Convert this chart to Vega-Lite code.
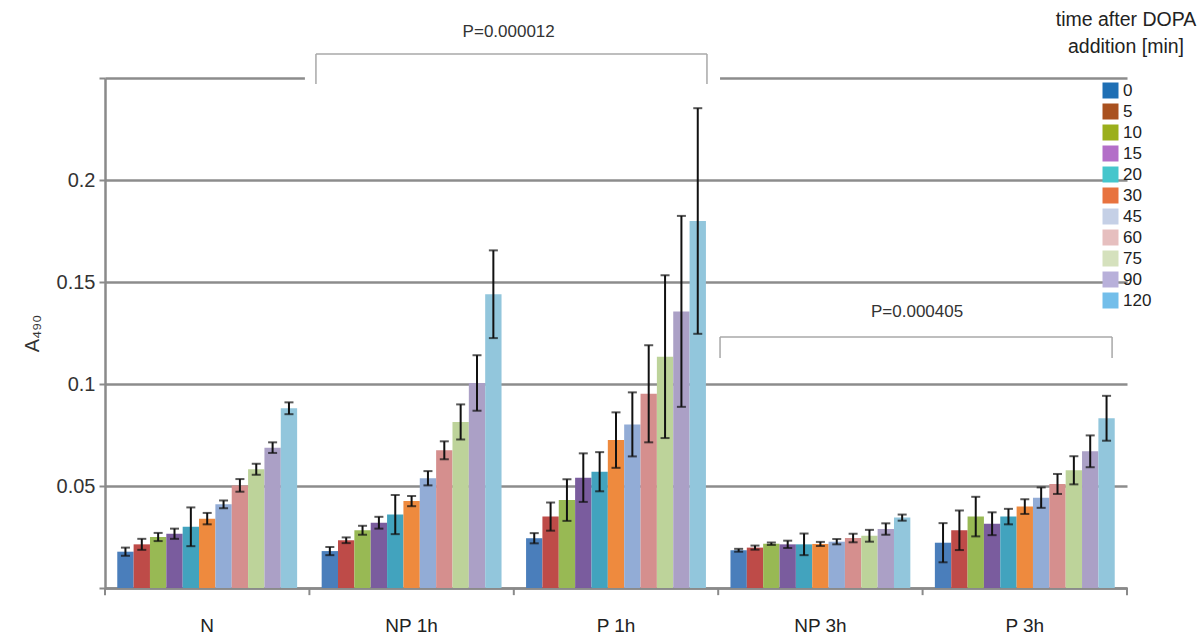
{
  "$schema": "https://vega.github.io/schema/vega-lite/v6.json",
  "width": 1022,
  "height": 510,
  "autosize": "none",
  "padding": {"left": 105, "top": 78, "right": 76, "bottom": 51},
  "background": "white",
  "config": {
    "view": {"stroke": null},
    "font": "Liberation Sans",
    "axis": {"labelFont": "Liberation Sans", "titleFont": "Liberation Sans"}
  },
  "datasets": {
    "bars": [
      {"group": "N", "time": "0", "v": 0.0178, "lo": 0.0158, "hi": 0.0198},
      {"group": "N", "time": "5", "v": 0.0214, "lo": 0.0187, "hi": 0.0241},
      {"group": "N", "time": "10", "v": 0.0250, "lo": 0.0230, "hi": 0.0270},
      {"group": "N", "time": "15", "v": 0.0266, "lo": 0.0241, "hi": 0.0291},
      {"group": "N", "time": "20", "v": 0.0300, "lo": 0.0205, "hi": 0.0395},
      {"group": "N", "time": "30", "v": 0.0340, "lo": 0.0312, "hi": 0.0368},
      {"group": "N", "time": "45", "v": 0.0410, "lo": 0.0391, "hi": 0.0429},
      {"group": "N", "time": "60", "v": 0.0503, "lo": 0.0472, "hi": 0.0534},
      {"group": "N", "time": "75", "v": 0.0582, "lo": 0.0555, "hi": 0.0609},
      {"group": "N", "time": "90", "v": 0.0688, "lo": 0.0662, "hi": 0.0714},
      {"group": "N", "time": "120", "v": 0.0881, "lo": 0.0852, "hi": 0.0910},
      {"group": "NP 1h", "time": "0", "v": 0.0181, "lo": 0.0161, "hi": 0.0201},
      {"group": "NP 1h", "time": "5", "v": 0.0234, "lo": 0.0220, "hi": 0.0248},
      {"group": "NP 1h", "time": "10", "v": 0.0283, "lo": 0.0261, "hi": 0.0305},
      {"group": "NP 1h", "time": "15", "v": 0.0320, "lo": 0.0291, "hi": 0.0349},
      {"group": "NP 1h", "time": "20", "v": 0.0360, "lo": 0.0264, "hi": 0.0456},
      {"group": "NP 1h", "time": "30", "v": 0.0426, "lo": 0.0401, "hi": 0.0451},
      {"group": "NP 1h", "time": "45", "v": 0.0538, "lo": 0.0503, "hi": 0.0573},
      {"group": "NP 1h", "time": "60", "v": 0.0675, "lo": 0.0631, "hi": 0.0719},
      {"group": "NP 1h", "time": "75", "v": 0.0814, "lo": 0.0728, "hi": 0.0900},
      {"group": "NP 1h", "time": "90", "v": 0.1005, "lo": 0.0869, "hi": 0.1141},
      {"group": "NP 1h", "time": "120", "v": 0.1440, "lo": 0.1225, "hi": 0.1655},
      {"group": "P 1h", "time": "0", "v": 0.0244, "lo": 0.0219, "hi": 0.0269},
      {"group": "P 1h", "time": "5", "v": 0.0350, "lo": 0.0281, "hi": 0.0419},
      {"group": "P 1h", "time": "10", "v": 0.0431, "lo": 0.0329, "hi": 0.0533},
      {"group": "P 1h", "time": "15", "v": 0.0541, "lo": 0.0422, "hi": 0.0660},
      {"group": "P 1h", "time": "20", "v": 0.0570, "lo": 0.0474, "hi": 0.0666},
      {"group": "P 1h", "time": "30", "v": 0.0725, "lo": 0.0589, "hi": 0.0861},
      {"group": "P 1h", "time": "45", "v": 0.0802, "lo": 0.0645, "hi": 0.0959},
      {"group": "P 1h", "time": "60", "v": 0.0952, "lo": 0.0714, "hi": 0.1190},
      {"group": "P 1h", "time": "75", "v": 0.1134, "lo": 0.0735, "hi": 0.1533},
      {"group": "P 1h", "time": "90", "v": 0.1356, "lo": 0.0888, "hi": 0.1824},
      {"group": "P 1h", "time": "120", "v": 0.1799, "lo": 0.1246, "hi": 0.2352},
      {"group": "NP 3h", "time": "0", "v": 0.0185, "lo": 0.0178, "hi": 0.0192},
      {"group": "NP 3h", "time": "5", "v": 0.0198, "lo": 0.0188, "hi": 0.0208},
      {"group": "NP 3h", "time": "10", "v": 0.0217, "lo": 0.0211, "hi": 0.0223},
      {"group": "NP 3h", "time": "15", "v": 0.0214, "lo": 0.0196, "hi": 0.0232},
      {"group": "NP 3h", "time": "20", "v": 0.0214, "lo": 0.0161, "hi": 0.0267},
      {"group": "NP 3h", "time": "30", "v": 0.0216, "lo": 0.0206, "hi": 0.0226},
      {"group": "NP 3h", "time": "45", "v": 0.0227, "lo": 0.0214, "hi": 0.0240},
      {"group": "NP 3h", "time": "60", "v": 0.0245, "lo": 0.0224, "hi": 0.0266},
      {"group": "NP 3h", "time": "75", "v": 0.0256, "lo": 0.0227, "hi": 0.0285},
      {"group": "NP 3h", "time": "90", "v": 0.0289, "lo": 0.0261, "hi": 0.0317},
      {"group": "NP 3h", "time": "120", "v": 0.0345, "lo": 0.0330, "hi": 0.0360},
      {"group": "P 3h", "time": "0", "v": 0.0222, "lo": 0.0126, "hi": 0.0318},
      {"group": "P 3h", "time": "5", "v": 0.0283, "lo": 0.0186, "hi": 0.0380},
      {"group": "P 3h", "time": "10", "v": 0.0350, "lo": 0.0253, "hi": 0.0447},
      {"group": "P 3h", "time": "15", "v": 0.0315, "lo": 0.0259, "hi": 0.0371},
      {"group": "P 3h", "time": "20", "v": 0.0350, "lo": 0.0312, "hi": 0.0388},
      {"group": "P 3h", "time": "30", "v": 0.0399, "lo": 0.0363, "hi": 0.0435},
      {"group": "P 3h", "time": "45", "v": 0.0443, "lo": 0.0393, "hi": 0.0493},
      {"group": "P 3h", "time": "60", "v": 0.0510, "lo": 0.0461, "hi": 0.0559},
      {"group": "P 3h", "time": "75", "v": 0.0577, "lo": 0.0508, "hi": 0.0646},
      {"group": "P 3h", "time": "90", "v": 0.0670, "lo": 0.0592, "hi": 0.0748},
      {"group": "P 3h", "time": "120", "v": 0.0832, "lo": 0.0722, "hi": 0.0942}
    ],
    "covers": [
      {"x": 0.978, "x2": 3.009, "y": 0.2465, "y2": 0.2535}
    ],
    "segments": [
      {"x": 1.032, "x2": 2.945, "y": 0.2618, "y2": 0.2618},
      {"x": 1.032, "x2": 1.032, "y": 0.2618, "y2": 0.2471},
      {"x": 2.945, "x2": 2.945, "y": 0.2618, "y2": 0.2471},
      {"x": 3.009, "x2": 4.927, "y": 0.1230, "y2": 0.1230},
      {"x": 3.009, "x2": 3.009, "y": 0.1230, "y2": 0.1127},
      {"x": 4.927, "x2": 4.927, "y": 0.1230, "y2": 0.1127}
    ],
    "xticks": [
      {"x": 0, "y": 0, "y2": -0.0035},
      {"x": 1, "y": 0, "y2": -0.0035},
      {"x": 2, "y": 0, "y2": -0.0035},
      {"x": 3, "y": 0, "y2": -0.0035},
      {"x": 4, "y": 0, "y2": -0.0035},
      {"x": 5, "y": 0, "y2": -0.0035}
    ],
    "pvals": [
      {"label": "P=0.000012", "x": 1.975, "y": 0.2725},
      {"label": "P=0.000405", "x": 3.973, "y": 0.1353}
    ],
    "legtitle": [
      {"label": "time after DOPA", "x": 4.995, "y": 0.2784},
      {"label": "addition [min]", "x": 4.995, "y": 0.2652}
    ]
  },
  "layer": [
    {
      "resolve": {"scale": {"color": "independent"}},
      "layer": [
        {
          "data": {"name": "bars"},
          "mark": {"type": "bar"},
          "encoding": {
            "x": {"field": "group", "type": "nominal", "sort": ["N", "NP 1h", "P 1h", "NP 3h", "P 3h"],
              "scale": {"paddingInner": 0.12, "paddingOuter": 0.06},
              "axis": {"title": null, "labelAngle": 0, "ticks": false, "labelFontSize": 19, "labelColor": "#222", "labelPadding": 28, "domainColor": "#8a8a8a", "domainWidth": 2.5, "grid": false}},
            "xOffset": {"field": "time", "type": "nominal", "sort": ["0", "5", "10", "15", "20", "30", "45", "60", "75", "90", "120"], "scale": {"paddingInner": 0, "paddingOuter": 0}},
            "y": {"field": "v", "type": "quantitative",
              "scale": {"domain": [0, 0.25], "nice": false, "zero": true},
              "axis": {"values": [0, 0.05, 0.1, 0.15, 0.2, 0.25],
                "labelExpr": "datum.value == 0 || datum.value > 0.24 ? '' : '' + round(datum.value * 100) / 100",
                "title": "A₄₉₀", "titleFontSize": 20, "titleFontWeight": "normal", "titleColor": "#333", "titlePadding": 14,
                "labelFontSize": 20, "labelColor": "#333", "labelPadding": 4,
                "grid": true, "gridColor": "#8c8c8c", "gridWidth": 2.5,
                "domainColor": "#8a8a8a", "domainWidth": 2.5,
                "tickColor": "#8a8a8a", "tickWidth": 2, "tickSize": 6}},
            "color": {"field": "time", "type": "nominal",
              "scale": {"domain": ["0", "5", "10", "15", "20", "30", "45", "60", "75", "90", "120"],
                "range": ["#4A7EBB", "#BE4B48", "#98B954", "#7A5C9E", "#42A3BE", "#EE8A3E", "#92ACD6", "#D58F8E", "#BDD39A", "#ABA0C6", "#92C6DC"]},
              "legend": null}
          }
        },
        {
          "data": {"name": "bars"},
          "mark": {"type": "rule", "color": "#111", "strokeWidth": 2},
          "encoding": {
            "x": {"field": "group", "type": "nominal", "sort": ["N", "NP 1h", "P 1h", "NP 3h", "P 3h"]},
            "xOffset": {"field": "time", "type": "nominal", "sort": ["0", "5", "10", "15", "20", "30", "45", "60", "75", "90", "120"]},
            "y": {"field": "lo", "type": "quantitative", "scale": {"domain": [0, 0.25], "nice": false}},
            "y2": {"field": "hi"}
          }
        },
        {
          "data": {"name": "bars"},
          "mark": {"type": "tick", "color": "#111", "thickness": 2, "size": 9},
          "encoding": {
            "x": {"field": "group", "type": "nominal", "sort": ["N", "NP 1h", "P 1h", "NP 3h", "P 3h"]},
            "xOffset": {"field": "time", "type": "nominal", "sort": ["0", "5", "10", "15", "20", "30", "45", "60", "75", "90", "120"]},
            "y": {"field": "lo", "type": "quantitative", "scale": {"domain": [0, 0.25], "nice": false}}
          }
        },
        {
          "data": {"name": "bars"},
          "mark": {"type": "tick", "color": "#111", "thickness": 2, "size": 9},
          "encoding": {
            "x": {"field": "group", "type": "nominal", "sort": ["N", "NP 1h", "P 1h", "NP 3h", "P 3h"]},
            "xOffset": {"field": "time", "type": "nominal", "sort": ["0", "5", "10", "15", "20", "30", "45", "60", "75", "90", "120"]},
            "y": {"field": "hi", "type": "quantitative", "scale": {"domain": [0, 0.25], "nice": false}}
          }
        },
        {
          "data": {"name": "bars"},
          "mark": {"type": "square", "opacity": 0},
          "encoding": {
            "x": {"field": "group", "type": "nominal", "sort": ["N", "NP 1h", "P 1h", "NP 3h", "P 3h"]},
            "xOffset": {"field": "time", "type": "nominal", "sort": ["0", "5", "10", "15", "20", "30", "45", "60", "75", "90", "120"]},
            "y": {"field": "v", "type": "quantitative", "scale": {"domain": [0, 0.25], "nice": false}},
            "color": {"field": "time", "type": "nominal",
              "scale": {"domain": ["0", "5", "10", "15", "20", "30", "45", "60", "75", "90", "120"],
                "range": ["#1F6FB4", "#A9511F", "#9BAF1C", "#B36FC8", "#46C6CC", "#E8733F", "#C5D0E6", "#E6BFBF", "#D5E1BD", "#B8B0DA", "#73BEEA"]},
              "legend": {"orient": "none", "legendX": 997, "legendY": 4,
                "title": null,
                "labelFontSize": 17, "labelColor": "#222", "labelFont": "Liberation Sans", "labelOffset": 4,
                "symbolType": "square", "symbolSize": 256, "symbolStrokeWidth": 0, "symbolOpacity": 1,
                "rowPadding": 3}}
          }
        }
      ]
    },
    {
      "data": {"name": "covers"},
      "mark": {"type": "rect", "color": "white"},
      "encoding": {
        "x": {"field": "x", "type": "quantitative", "scale": {"domain": [0, 5], "nice": false, "zero": false}, "axis": null},
        "x2": {"field": "x2"},
        "y": {"field": "y", "type": "quantitative", "scale": {"domain": [0, 0.25], "nice": false}},
        "y2": {"field": "y2"}
      }
    },
    {
      "data": {"name": "segments"},
      "mark": {"type": "rule", "color": "#a8a8a8", "strokeWidth": 1.5},
      "encoding": {
        "x": {"field": "x", "type": "quantitative", "scale": {"domain": [0, 5], "nice": false, "zero": false}, "axis": null},
        "x2": {"field": "x2"},
        "y": {"field": "y", "type": "quantitative", "scale": {"domain": [0, 0.25], "nice": false}},
        "y2": {"field": "y2"}
      }
    },
    {
      "data": {"name": "xticks"},
      "mark": {"type": "rule", "color": "#8a8a8a", "strokeWidth": 2},
      "encoding": {
        "x": {"field": "x", "type": "quantitative", "scale": {"domain": [0, 5], "nice": false, "zero": false}, "axis": null},
        "y": {"field": "y", "type": "quantitative", "scale": {"domain": [0, 0.25], "nice": false}},
        "y2": {"field": "y2"}
      }
    },
    {
      "data": {"name": "pvals"},
      "mark": {"type": "text", "fontSize": 17, "color": "#333", "baseline": "middle", "align": "center", "font": "Liberation Sans"},
      "encoding": {
        "x": {"field": "x", "type": "quantitative", "scale": {"domain": [0, 5], "nice": false, "zero": false}, "axis": null},
        "y": {"field": "y", "type": "quantitative", "scale": {"domain": [0, 0.25], "nice": false}},
        "text": {"field": "label"}
      }
    },
    {
      "data": {"name": "legtitle"},
      "mark": {"type": "text", "fontSize": 19.5, "color": "#222", "baseline": "middle", "align": "center", "font": "Liberation Sans"},
      "encoding": {
        "x": {"field": "x", "type": "quantitative", "scale": {"domain": [0, 5], "nice": false, "zero": false}, "axis": null},
        "y": {"field": "y", "type": "quantitative", "scale": {"domain": [0, 0.25], "nice": false}},
        "text": {"field": "label"}
      }
    }
  ],
  "resolve": {"scale": {"x": "independent"}}
}
